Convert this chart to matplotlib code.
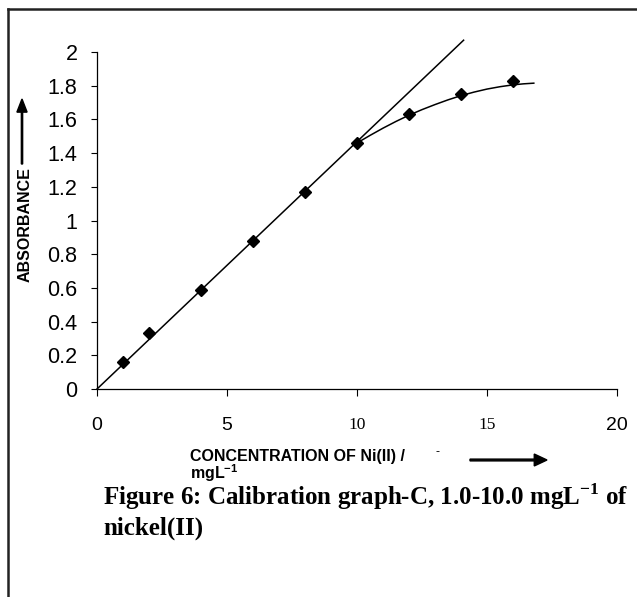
"""Calibration graph-C for nickel(II): absorbance vs concentration."""

import matplotlib
matplotlib.use("Agg")
import matplotlib.pyplot as plt
from matplotlib.lines import Line2D
from matplotlib.patches import FancyArrow

# measured points
conc = [1, 2, 4, 6, 8, 10, 12, 14, 16]
absorb = [0.16, 0.33, 0.59, 0.88, 1.17, 1.46, 1.63, 1.75, 1.83]

# straight calibration line (end points)
line_x = [0, 14.1]
line_y = [0, 2.07]

# curved part above 10 mg/L
curve_x = [10, 10.5, 11, 11.5, 12, 12.5, 13, 13.5, 14, 14.5, 15, 15.5, 16, 16.4, 16.8]
curve_y = [1.46, 1.505, 1.548, 1.588, 1.625, 1.658, 1.688, 1.716, 1.741, 1.762, 1.78,
           1.794, 1.805, 1.811, 1.815]

x_ticks = [0, 5, 10, 15, 20]
y_ticks = [0, 0.2, 0.4, 0.6, 0.8, 1, 1.2, 1.4, 1.6, 1.8, 2]
y_tick_labels = ["0", "0.2", "0.4", "0.6", "0.8", "1", "1.2", "1.4", "1.6", "1.8", "2"]

SANS = "Liberation Sans"
SERIF = "Liberation Serif"

plt.rcParams["mathtext.fontset"] = "custom"
plt.rcParams["mathtext.bf"] = "Liberation Serif:bold"
plt.rcParams["mathtext.sf"] = "Liberation Sans:bold"
plt.rcParams["mathtext.rm"] = "Liberation Serif"

fig = plt.figure(figsize=(6.37, 5.97), dpi=100)
ax = fig.add_axes([0.1523, 0.3484, 0.8163, 0.5645])

ax.plot(line_x, line_y, color="black", linewidth=1.1, clip_on=False, zorder=2)
ax.plot(curve_x, curve_y, color="black", linewidth=1.1, clip_on=False, zorder=2)
ax.plot(conc, absorb, linestyle="none", marker="D", markersize=6.5,
        color="black", clip_on=False, zorder=3)

ax.set_xlim(0, 20)
ax.set_ylim(0, 2)
ax.spines["top"].set_visible(False)
ax.spines["right"].set_visible(False)
for side in ("left", "bottom"):
    ax.spines[side].set_linewidth(0.9)

ax.set_yticks(y_ticks)
ax.set_yticklabels(y_tick_labels, fontsize=15.5, fontfamily=SANS)
ax.tick_params(axis="y", direction="out", length=4, width=0.8, pad=10)

ax.set_xticks(x_ticks)
ax.set_xticklabels([str(v) for v in x_ticks], fontsize=14, fontfamily=SANS)
for lab, v in zip(ax.get_xticklabels(), x_ticks):
    if v in (10, 15):
        lab.set_fontfamily(SERIF)
        lab.set_fontsize(12.5)
ax.tick_params(axis="x", direction="out", length=5, width=0.8, pad=15)

# axis titles drawn as free text, like the original
fig.text(25 / 637, 1 - 225 / 597, "ABSORBANCE", rotation=90, fontsize=11.5,
         fontweight="bold", fontfamily=SANS, ha="center", va="center")
fig.text(190 / 637, 1 - 456 / 597, "CONCENTRATION OF Ni(II) /", fontsize=11.5,
         fontweight="bold", fontfamily=SANS, ha="left", va="center")
fig.text(190 / 637, 1 - 473 / 597, r"mgL$^{\mathsf{-1}}$", fontsize=11.5,
         fontweight="bold", fontfamily=SANS, ha="left", va="center")
fig.text(437 / 637, 1 - 452 / 597, "-", fontsize=9, fontfamily=SANS,
         ha="center", va="center")

# arrows
fig.patches.append(FancyArrow(
    22 / 637, 1 - 164 / 597, 0, 65 / 597, width=0.002, head_width=0.016,
    head_length=0.022, length_includes_head=True, color="black",
    transform=fig.transFigure))
fig.patches.append(FancyArrow(
    470 / 637, 1 - 460 / 597, 77 / 637, 0, width=0.003, head_width=0.02,
    head_length=0.02, length_includes_head=True, color="black",
    transform=fig.transFigure))

# caption
fig.text(103 / 637, 1 - 497 / 597,
         r"Figure 6: Calibration graph-C, 1.0-10.0 mgL$^{\mathbf{-1}}$ of",
         fontsize=18, fontweight="bold", fontfamily=SERIF, ha="left", va="center")
fig.text(103 / 637, 1 - 528 / 597, "nickel(II)",
         fontsize=18, fontweight="bold", fontfamily=SERIF, ha="left", va="center")

# outer frame (top and left edges only visible)
fig.lines.append(Line2D([8 / 637, 1], [1 - 9 / 597, 1 - 9 / 597], color="#222222",
                        linewidth=1.8, transform=fig.transFigure))
fig.lines.append(Line2D([8 / 637, 8 / 637], [0, 1 - 9 / 597], color="#222222",
                        linewidth=1.8, transform=fig.transFigure))

fig.savefig("out.png", dpi=100)
